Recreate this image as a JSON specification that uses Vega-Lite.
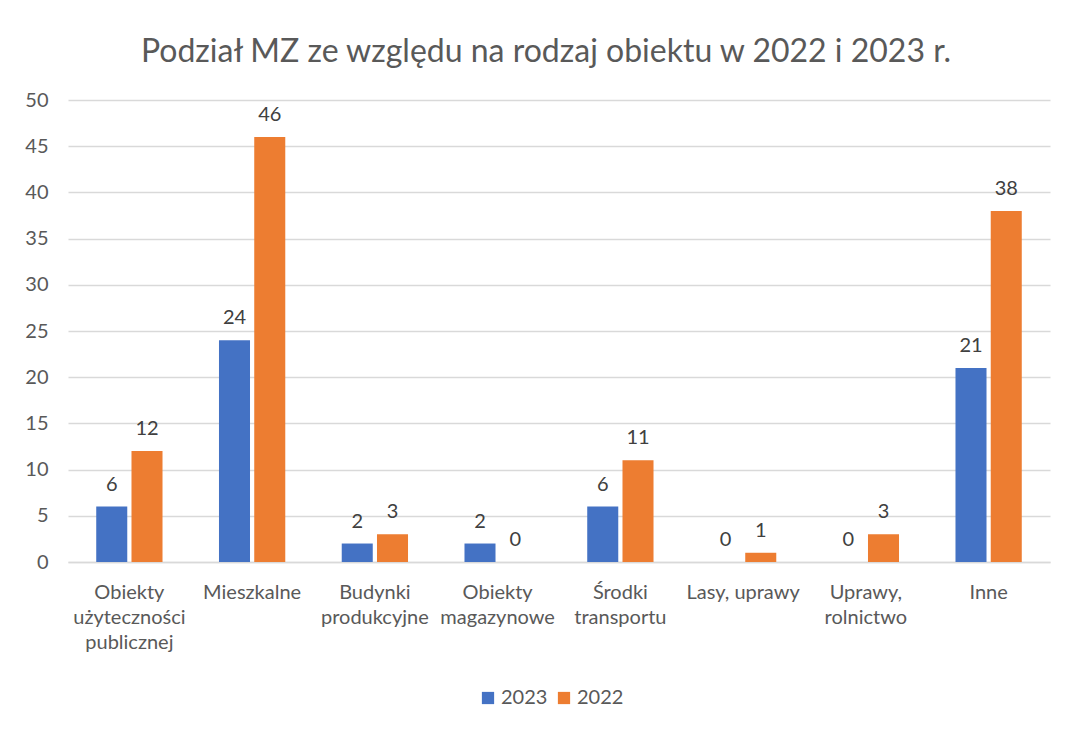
{
  "$schema": "https://vega.github.io/schema/vega-lite/v6.json",
  "width": 982,
  "height": 462,
  "autosize": {"type": "none"},
  "padding": {"left": 68, "top": 100, "right": 27, "bottom": 167},
  "background": "white",
  "title": {
    "text": "Podział MZ ze względu na rodzaj obiektu w 2022 i 2023 r.",
    "fontSize": 32,
    "font": "Lato",
    "fontWeight": "normal",
    "color": "#595959",
    "anchor": "middle",
    "offset": 21,
    "dx": -13
  },
  "data": {
    "values": [
      {"kat": "Obiekty|użyteczności|publicznej", "rok": "2023", "n": 6},
      {"kat": "Obiekty|użyteczności|publicznej", "rok": "2022", "n": 12},
      {"kat": "Mieszkalne", "rok": "2023", "n": 24},
      {"kat": "Mieszkalne", "rok": "2022", "n": 46},
      {"kat": "Budynki|produkcyjne", "rok": "2023", "n": 2},
      {"kat": "Budynki|produkcyjne", "rok": "2022", "n": 3},
      {"kat": "Obiekty|magazynowe", "rok": "2023", "n": 2},
      {"kat": "Obiekty|magazynowe", "rok": "2022", "n": 0},
      {"kat": "Środki|transportu", "rok": "2023", "n": 6},
      {"kat": "Środki|transportu", "rok": "2022", "n": 11},
      {"kat": "Lasy, uprawy", "rok": "2023", "n": 0},
      {"kat": "Lasy, uprawy", "rok": "2022", "n": 1},
      {"kat": "Uprawy,|rolnictwo", "rok": "2023", "n": 0},
      {"kat": "Uprawy,|rolnictwo", "rok": "2022", "n": 3},
      {"kat": "Inne", "rok": "2023", "n": 21},
      {"kat": "Inne", "rok": "2022", "n": 38}
    ]
  },
  "encoding": {
    "x": {
      "field": "kat",
      "type": "nominal",
      "sort": null,
      "scale": {"paddingInner": 0.46, "paddingOuter": 0.23},
      "axis": {
        "title": null,
        "labelAngle": 0,
        "labelExpr": "split(datum.label, '|')",
        "labelFont": "Lato",
        "labelFontSize": 20,
        "labelColor": "#595959",
        "labelLineHeight": 25,
        "labelPadding": 30,
        "labelBaseline": "middle",
        "ticks": false,
        "domainColor": "#D9D9D9",
        "domainWidth": 1.5
      }
    },
    "xOffset": {
      "field": "rok",
      "type": "nominal",
      "sort": ["2023", "2022"],
      "scale": {"paddingInner": 0.12}
    },
    "y": {
      "field": "n",
      "type": "quantitative",
      "scale": {"domain": [0, 50], "nice": false},
      "axis": {
        "title": null,
        "values": [0, 5, 10, 15, 20, 25, 30, 35, 40, 45, 50],
        "labelFont": "Lato",
        "labelFontSize": 20,
        "labelColor": "#595959",
        "labelPadding": 20,
        "ticks": false,
        "domain": false,
        "gridColor": "#D9D9D9",
        "gridWidth": 1.5
      }
    },
    "color": {
      "field": "rok",
      "type": "nominal",
      "sort": ["2023", "2022"],
      "scale": {"domain": ["2023", "2022"], "range": ["#4472C4", "#ED7D31"]},
      "legend": {
        "title": null,
        "orient": "none",
        "direction": "horizontal",
        "legendX": 410,
        "legendY": 588,
        "symbolType": "square",
        "symbolSize": 150,
        "symbolOpacity": 1,
        "labelFont": "Lato",
        "labelFontSize": 20,
        "labelColor": "#595959",
        "columnPadding": 6,
        "labelOffset": 3
      }
    }
  },
  "layer": [
    {"mark": {"type": "bar"}},
    {
      "mark": {"type": "text", "baseline": "bottom", "dy": -12, "font": "Lato", "fontSize": 20, "color": "#404040"},
      "encoding": {"text": {"field": "n", "type": "quantitative"}, "color": {"value": "#404040"}}
    }
  ],
  "config": {"view": {"stroke": null}}
}
